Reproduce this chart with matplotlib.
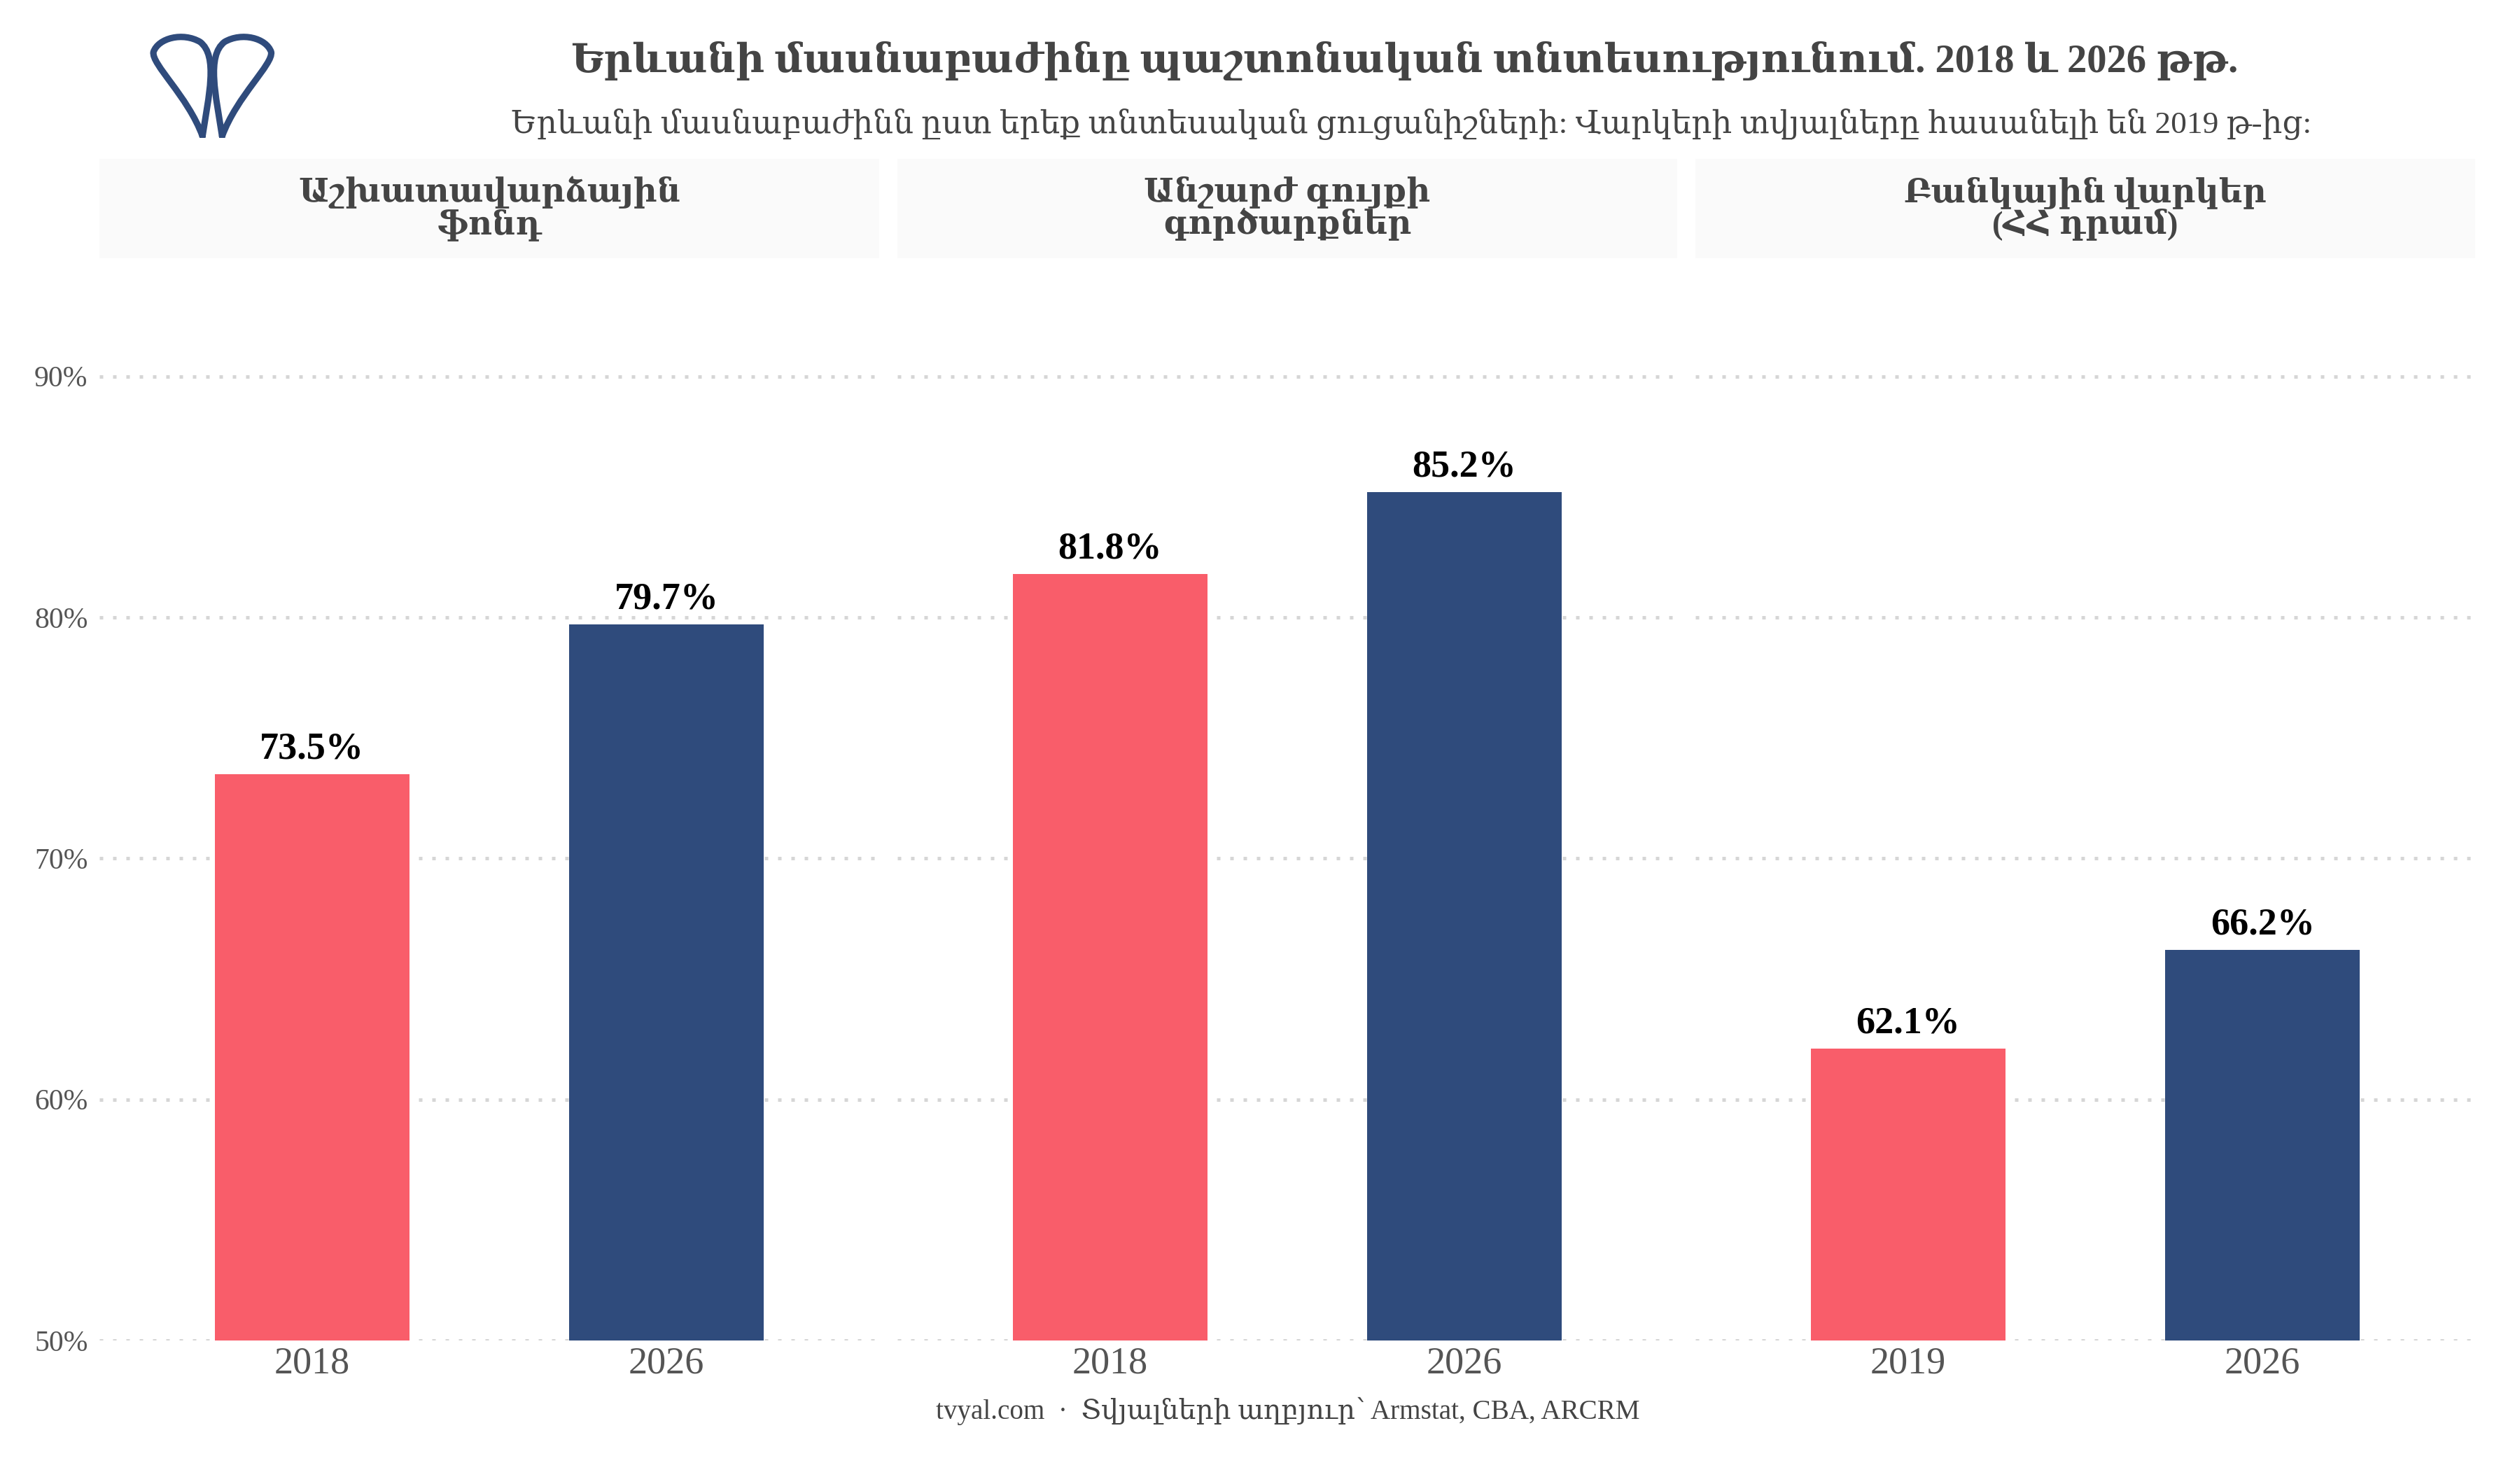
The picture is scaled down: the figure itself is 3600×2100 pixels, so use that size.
import matplotlib
matplotlib.use("Agg")
import matplotlib.pyplot as plt
from matplotlib.path import Path
from matplotlib.patches import PathPatch, Rectangle

plt.rcParams['font.family'] = ['Liberation Serif', 'DejaVu Serif', 'DejaVu Sans']

# data
panels = ["Աշխատավարձային\nֆոնդ", "Անշարժ գույքի\nգործարքներ", "Բանկային վարկեր\n(ՀՀ դրամ)"]
years = [["2018", "2026"], ["2018", "2026"], ["2019", "2026"]]
shares = [[73.5, 79.7], [81.8, 85.2], [62.1, 66.2]]
yticks = [50, 60, 70, 80, 90]

title = "Երևանի մասնաբաժինը պաշտոնական տնտեսությունում. 2018 և 2026 թթ."
subtitle = "Երևանի մասնաբաժինն ըստ երեք տնտեսական ցուցանիշների: Վարկերի տվյալները հասանելի են 2019 թ-ից:"
caption = "tvyal.com  ·  Տվյալների աղբյուր՝ Armstat, CBA, ARCRM"

bar_colors = ["#f95d6a", "#2f4b7c"]
text_grey = "#444444"
tick_grey = "#555555"

fig = plt.figure(figsize=(12, 7), dpi=300)

lefts = [142 / 3600, 1282 / 3600, 2422 / 3600]
width = 1114 / 3600
bottom = 1 - 1915 / 2100
top = 1 - 369 / 2100
strip_h = (369 - 227) / (1915 - 369)

for i, ax_left in enumerate(lefts):
    ax = fig.add_axes([ax_left, bottom, width, top - bottom])
    x = range(len(years[i]))
    ax.bar(x, shares[i], width=0.55, bottom=0, color=bar_colors, zorder=2)
    for xi, v in zip(x, shares[i]):
        ax.annotate(f"{v:.1f}%", (xi, v), xytext=(0, 2.5), textcoords="offset points",
                    ha="center", va="bottom", fontsize=13, fontweight="bold", color="black")
    ax.set_ylim(50, 94.9)
    ax.set_xlim(-0.6, 1.6)
    ax.set_xticks(list(x))
    ax.set_xticklabels(years[i], fontsize=13, color=tick_grey)
    ax.set_yticks(yticks)
    if i == 0:
        ax.set_yticklabels([f"{t}%" for t in yticks], fontsize=10, color=tick_grey)
    else:
        ax.set_yticklabels([])
    ax.tick_params(length=0, axis="x", pad=2)
    ax.tick_params(length=0, axis="y", pad=4)
    for s in ax.spines.values():
        s.set_visible(False)
    ax.grid(axis="y", color="#d6d6d6", linewidth=1.2, linestyle=(0, (1, 2.8)), zorder=0)
    ax.set_axisbelow(True)
    # facet strip
    ax.add_patch(Rectangle((0, 1), 1, strip_h, transform=ax.transAxes,
                           facecolor="#fafafa", edgecolor="none", clip_on=False))
    ax.text(0.5, 1 + strip_h / 2, panels[i], transform=ax.transAxes, ha="center", va="center",
            fontsize=11.2, fontweight="bold", color=text_grey, linespacing=1.0)

fig.text(0.5575, 0.9586, title, ha="center", va="center", fontsize=13.6,
         fontweight="bold", color=text_grey)
fig.text(0.56, 0.9157, subtitle, ha="center", va="center", fontsize=10.9, color=text_grey)
fig.text(0.511, 0.04, caption, ha="center", va="center", fontsize=9.4, color=text_grey)

# logo: two interlaced teardrops
lax = fig.add_axes([0.0575, 0.906, 0.0535, 0.073])
lax.set_xlim(-0.05, 1.05)
lax.set_ylim(-0.02, 1.05)
lax.axis("off")
drop = [(0.42, 0.0), (0.3, 0.4), (0.0, 0.72), (0.02, 0.84),
        (0.06, 0.98), (0.26, 1.04), (0.4, 0.94),
        (0.55, 0.8), (0.47, 0.4), (0.42, 0.0)]
codes = [Path.MOVETO] + [Path.CURVE4] * 9
for mirror in (False, True):
    pts = [((1 - px) if mirror else px, py) for px, py in drop]
    lax.add_patch(PathPatch(Path(pts, codes), facecolor="none",
                            edgecolor="#2f4b7c", linewidth=2.2, capstyle="round"))

fig.savefig("out.png", dpi=300, facecolor="white")
